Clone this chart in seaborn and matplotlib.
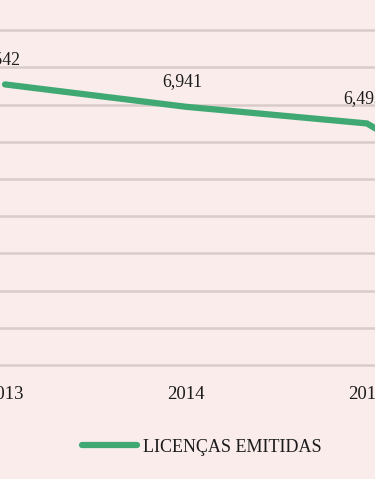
import matplotlib
matplotlib.use("Agg")
import matplotlib.pyplot as plt
import seaborn as sns
import pandas as pd

# data (2016 is only visible as the drop at the edge)
anos = [2013, 2014, 2015, 2016]
licencas = [7542, 6941, 6493, 3600]
rotulos = ["7,542", "6,941", "6,493", ""]
serie = "LICENÇAS EMITIDAS"

bg = "#f9ecea"
verde = "#40a872"
texto = "#1c1c1c"

sns.set_theme(style="white", rc={"axes.facecolor": bg, "figure.facecolor": bg})
plt.rcParams["font.family"] = ["Liberation Serif", "DejaVu Serif"]

df = pd.DataFrame({"ano": anos, "licencas": licencas})

fig = plt.figure(figsize=(3.75, 4.79), dpi=100)
ax = fig.add_axes([0, 0.238, 1, 0.699])

sns.lineplot(data=df, x="ano", y="licencas", ax=ax, color=verde, linewidth=4.5,
             label=serie, legend=False, solid_joinstyle="round", solid_capstyle="round")

for a, v, t in zip(anos, licencas, rotulos):
    if t:
        ax.annotate(t, (a, v), xytext=(-4, 25), textcoords="offset pixels",
                    ha="center", va="center", fontsize=12.8, color=texto)

ax.set_xlim(2013 - 5 / 181, 2013 + 370 / 181)
ax.set_ylim(0, 9000)
ax.set_yticks(range(0, 9001, 1000))
ax.set_yticklabels([])
ax.set_xticks(anos[:3])
ax.set_xticklabels([str(a) for a in anos[:3]])
ax.tick_params(axis="x", length=0, pad=15, labelsize=13.5, labelcolor=texto)
ax.tick_params(axis="y", length=0)
ax.yaxis.grid(True, color="#d8ccc9", linewidth=1.8)
for gl in ax.get_ygridlines():
    gl.set_clip_on(False)
ax.set_axisbelow(True)
for s in ax.spines.values():
    s.set_visible(False)
ax.set_xlabel("")
ax.set_ylabel("")

h, l = ax.get_legend_handles_labels()
fig.legend(h, l, loc="center", bbox_to_anchor=(202 / 375, 1 - 447 / 479),
           frameon=False, fontsize=13, handlelength=3.0, handletextpad=0.35,
           labelcolor=texto)

fig.savefig("out.png", dpi=100, facecolor=bg)
